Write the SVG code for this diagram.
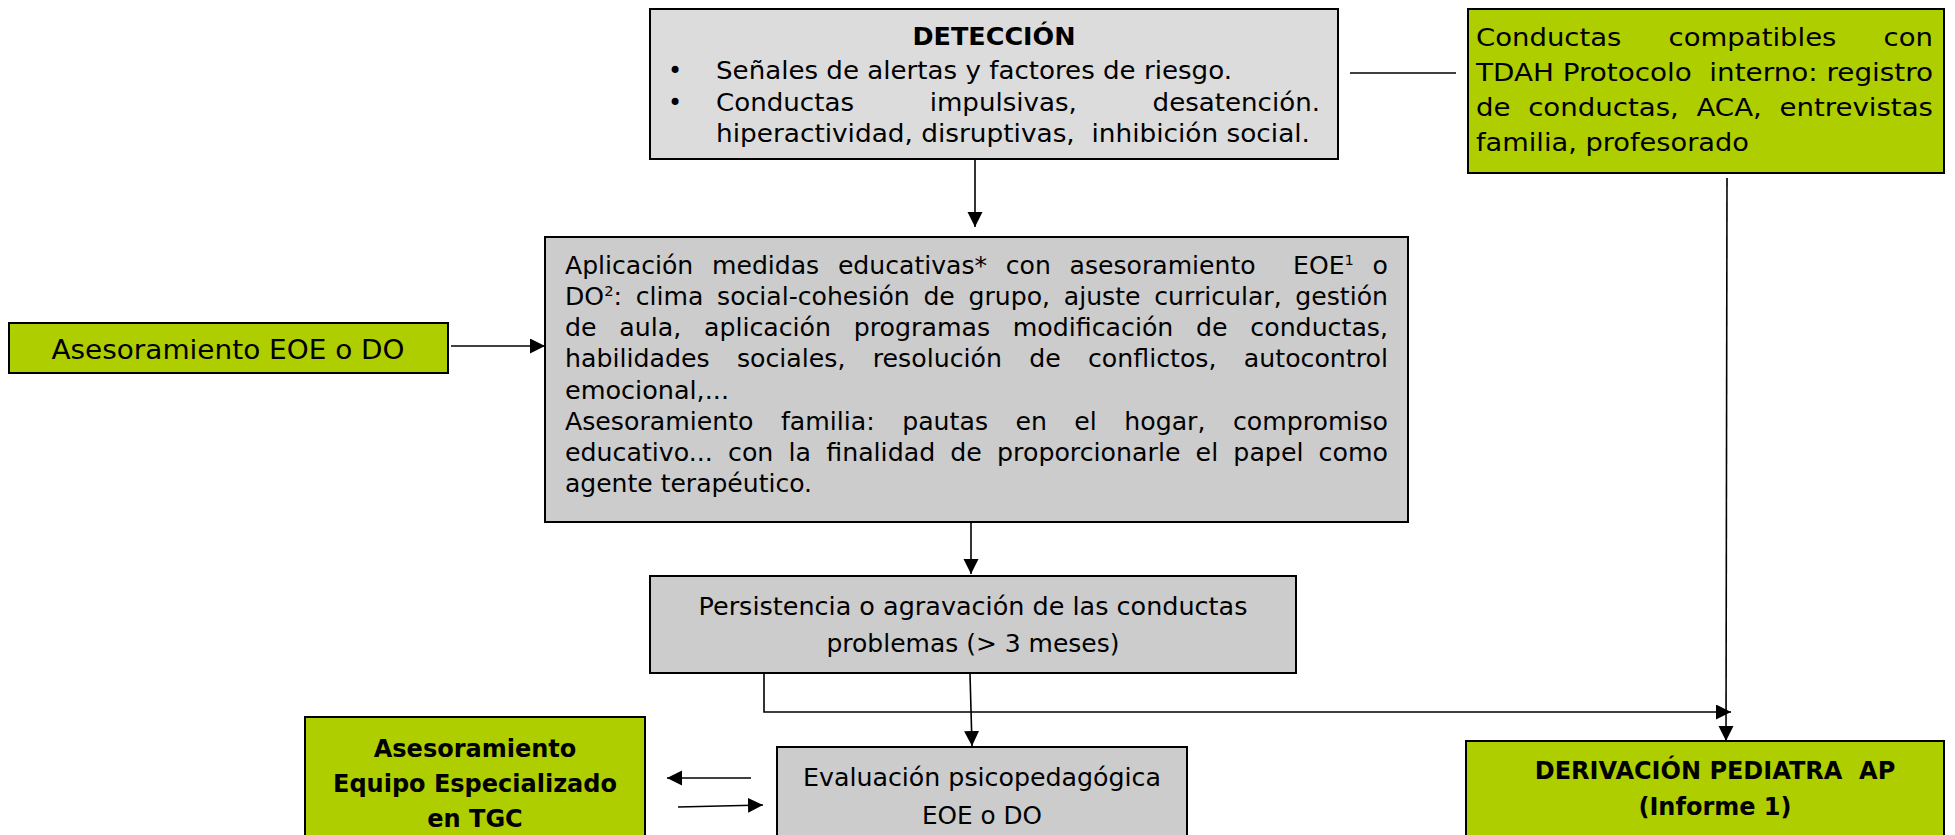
<svg xmlns="http://www.w3.org/2000/svg" width="1955" height="835" viewBox="0 0 1955 835">
<defs>
<style>
.box{stroke:#000;stroke-width:2}
.g1{fill:#dcdcdc}
.g2{fill:#cccccc}
.gr{fill:#aece00}
.t{font-family:"DejaVu Sans",Verdana,sans-serif;font-size:24px;fill:#000}
.t25{font-size:25px}
.b{font-family:"DejaVu Sans",Verdana,sans-serif;font-size:24px;font-weight:bold;fill:#000}
.c{text-anchor:middle}
.con{fill:none;stroke:#000;stroke-width:1.6}
</style>
<marker id="ah" markerWidth="16" markerHeight="16" refX="15" refY="7.5" orient="auto" markerUnits="userSpaceOnUse">
<path d="M0,0 L15,7.5 L0,15 z" fill="#000"/>
</marker>
</defs>
<rect width="1955" height="835" fill="#fff"/>

<g id="deteccion">
<rect class="box g1" x="650" y="9" width="688" height="150"/>
<text class="b c" x="994" y="45" textLength="163" lengthAdjust="spacingAndGlyphs">DETECCIÓN</text>
<text class="t" x="668" y="79">•</text>
<text class="t" x="668" y="111">•</text>
<text class="t" x="716" y="79" textLength="516" lengthAdjust="spacingAndGlyphs">Señales de alertas y factores de riesgo.</text>
<text class="t" x="716" y="111" word-spacing="62" textLength="604" lengthAdjust="spacingAndGlyphs">Conductas impulsivas, desatención.</text>
<text class="t" x="716" y="142" xml:space="preserve" textLength="594" lengthAdjust="spacingAndGlyphs">hiperactividad, disruptivas,  inhibición social.</text>
</g>

<g id="protocolo">
<rect class="box gr" x="1468" y="9" width="476" height="164"/>
<text class="t t25" x="1476" y="46" word-spacing="35" textLength="457" lengthAdjust="spacingAndGlyphs">Conductas compatibles con</text>
<text class="t t25" x="1476" y="81" xml:space="preserve" textLength="457" lengthAdjust="spacingAndGlyphs">TDAH Protocolo  interno: registro</text>
<text class="t t25" x="1476" y="116" word-spacing="8" textLength="457" lengthAdjust="spacingAndGlyphs">de conductas, ACA, entrevistas</text>
<text class="t t25" x="1476" y="151" textLength="273" lengthAdjust="spacingAndGlyphs">familia, profesorado</text>
</g>

<g id="asesoramiento-eoe">
<rect class="box gr" x="9" y="323" width="439" height="50"/>
<text class="t c" style="font-size:26px" x="228" y="359" textLength="353" lengthAdjust="spacingAndGlyphs">Asesoramiento EOE o DO</text>
</g>

<g id="medidas">
<rect class="box g2" x="545" y="237" width="863" height="285"/>
<text class="t" x="565" y="274" xml:space="preserve" word-spacing="10.3" textLength="823" lengthAdjust="spacingAndGlyphs">Aplicación medidas educativas* con asesoramiento  EOE<tspan dy="-9" style="font-size:14px">1</tspan><tspan dy="9"> o</tspan></text>
<text class="t" x="565" y="305" word-spacing="5.5" textLength="823" lengthAdjust="spacingAndGlyphs">DO<tspan dy="-9" style="font-size:14px">2</tspan><tspan dy="9">: clima social-cohesión de grupo, ajuste curricular, gestión</tspan></text>
<text class="t" x="565" y="336" word-spacing="14" textLength="823" lengthAdjust="spacingAndGlyphs">de aula, aplicación programas modificación de conductas,</text>
<text class="t" x="565" y="367" word-spacing="18.3" textLength="823" lengthAdjust="spacingAndGlyphs">habilidades sociales, resolución de conflictos, autocontrol</text>
<text class="t" x="565" y="399" textLength="164" lengthAdjust="spacingAndGlyphs">emocional,...</text>
<text class="t" x="565" y="430" word-spacing="18.5" textLength="823" lengthAdjust="spacingAndGlyphs">Asesoramiento familia: pautas en el hogar, compromiso</text>
<text class="t" x="565" y="461" word-spacing="6.8" textLength="823" lengthAdjust="spacingAndGlyphs">educativo... con la finalidad de proporcionarle el papel como</text>
<text class="t" x="565" y="492" textLength="247" lengthAdjust="spacingAndGlyphs">agente terapéutico.</text>
</g>

<g id="persistencia">
<rect class="box g2" x="650" y="576" width="646" height="97"/>
<text class="t c" x="973" y="615" textLength="549" lengthAdjust="spacingAndGlyphs">Persistencia o agravación de las conductas</text>
<text class="t c" x="973" y="652" textLength="293" lengthAdjust="spacingAndGlyphs">problemas (&gt; 3 meses)</text>
</g>

<g id="evaluacion">
<rect class="box g2" x="777" y="747" width="410" height="100"/>
<text class="t c" x="982" y="786" textLength="358" lengthAdjust="spacingAndGlyphs">Evaluación psicopedagógica</text>
<text class="t c" x="982" y="824" textLength="120" lengthAdjust="spacingAndGlyphs">EOE o DO</text>
</g>

<g id="equipo-especializado">
<rect class="box gr" x="305" y="717" width="340" height="130"/>
<text class="b c" x="475" y="757">Asesoramiento</text>
<text class="b c" x="475" y="792">Equipo Especializado</text>
<text class="b c" x="475" y="827">en TGC</text>
</g>

<g id="derivacion">
<rect class="box gr" x="1466" y="741" width="478" height="106"/>
<text class="b c" x="1715" y="779" xml:space="preserve">DERIVACIÓN PEDIATRA  AP</text>
<text class="b c" x="1715" y="815">(Informe 1)</text>
</g>

<g id="connectors">
<path class="con" d="M975,160 L975,227" marker-end="url(#ah)"/>
<path class="con" d="M1350,73 L1456,73"/>
<path class="con" d="M451,346 L545,346" marker-end="url(#ah)"/>
<path class="con" d="M971,523 L971,574" marker-end="url(#ah)"/>
<path class="con" d="M970,674 L972,746" marker-end="url(#ah)"/>
<path class="con" d="M764,674 L764,712 L1731,712" marker-end="url(#ah)"/>
<path class="con" d="M1727,178 L1726,741" marker-end="url(#ah)"/>
<path class="con" d="M751,778 L667,778" marker-end="url(#ah)"/>
<path class="con" d="M678,807 L763,805" marker-end="url(#ah)"/>
</g>
</svg>
